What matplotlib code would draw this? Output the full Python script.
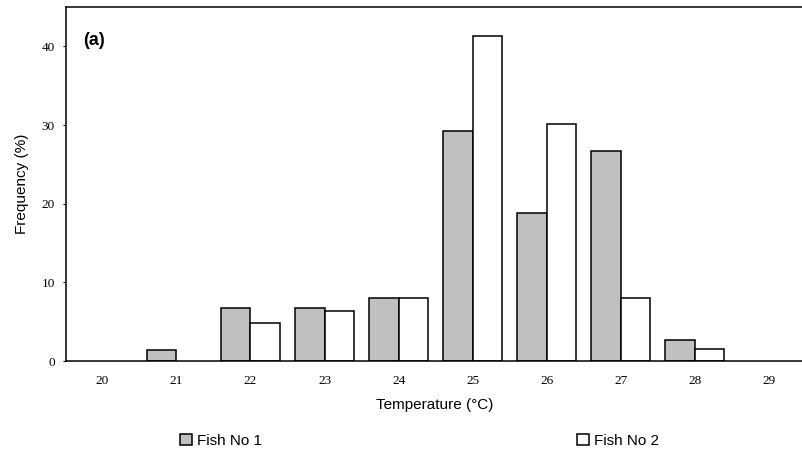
import numpy as np
import matplotlib
matplotlib.use('Agg')
import matplotlib.pyplot as plt

temps = ['20', '21', '22', '23', '24', '25', '26', '27', '28', '29']
fish1 = [0, 1.4, 6.7, 6.7, 8.0, 29.3, 18.8, 26.7, 2.7, 0]
fish2 = [0, 0, 4.8, 6.35, 8.0, 41.3, 30.1, 8.0, 1.5, 0]
yticks = [0, 10, 20, 30, 40]


def main():
    fig = plt.figure(figsize=(8.03, 4.54), dpi=100)
    ax = fig.add_axes([66 / 803, 93 / 454, 737 / 803, 354 / 454])

    x = np.arange(len(temps))
    w = 0.4
    b1 = ax.bar(x - w / 2, fish1, w, color='#c0c0c0', edgecolor='black', linewidth=1.1, label='Fish No 1')
    b2 = ax.bar(x + w / 2, fish2, w, color='white', edgecolor='black', linewidth=1.1, label='Fish No 2')
    # empty classes: no outline on the baseline
    for bars, vals in [(b1, fish1), (b2, fish2)]:
        for p, v in zip(bars.patches, vals):
            if v == 0:
                p.set_visible(False)

    ax.set_xlim(-0.49, 9.46)
    ax.set_ylim(0, 45)
    ax.set_yticks(yticks)
    ax.set_xticks(x)
    ax.set_xticklabels(temps)
    ax.spines['right'].set_visible(False)
    for s in ['left', 'top', 'bottom']:
        ax.spines[s].set_linewidth(1.1)
    ax.tick_params(axis='x', length=0, pad=10)
    ax.tick_params(axis='y', length=2, direction='out', pad=6)
    for lab in ax.get_xticklabels() + ax.get_yticklabels():
        lab.set_fontfamily('Liberation Serif')
        lab.set_fontsize(9.5)

    ax.set_xlabel('Temperature (°C)', fontfamily='Liberation Sans', fontsize=11, labelpad=8)
    ax.set_ylabel('Frequency (%)', fontfamily='Liberation Sans', fontsize=11, labelpad=9)
    ax.text(0.023, 0.904, '(a)', transform=ax.transAxes, fontfamily='Liberation Sans',
            fontweight='bold', fontsize=13, va='center')

    leg = fig.legend(handles=[b1, b2], loc='center left', bbox_to_anchor=(180 / 803, 1 - 441 / 454),
                     ncol=2, frameon=False, prop={'family': 'Liberation Sans', 'size': 11},
                     handlelength=0.78, handleheight=0.78, handletextpad=0.33, columnspacing=20.6,
                     borderpad=0, borderaxespad=0)
    for p in leg.get_patches():
        p.set_visible(True)

    plt.savefig('out.png', dpi=100)


if __name__ == '__main__':
    main()
